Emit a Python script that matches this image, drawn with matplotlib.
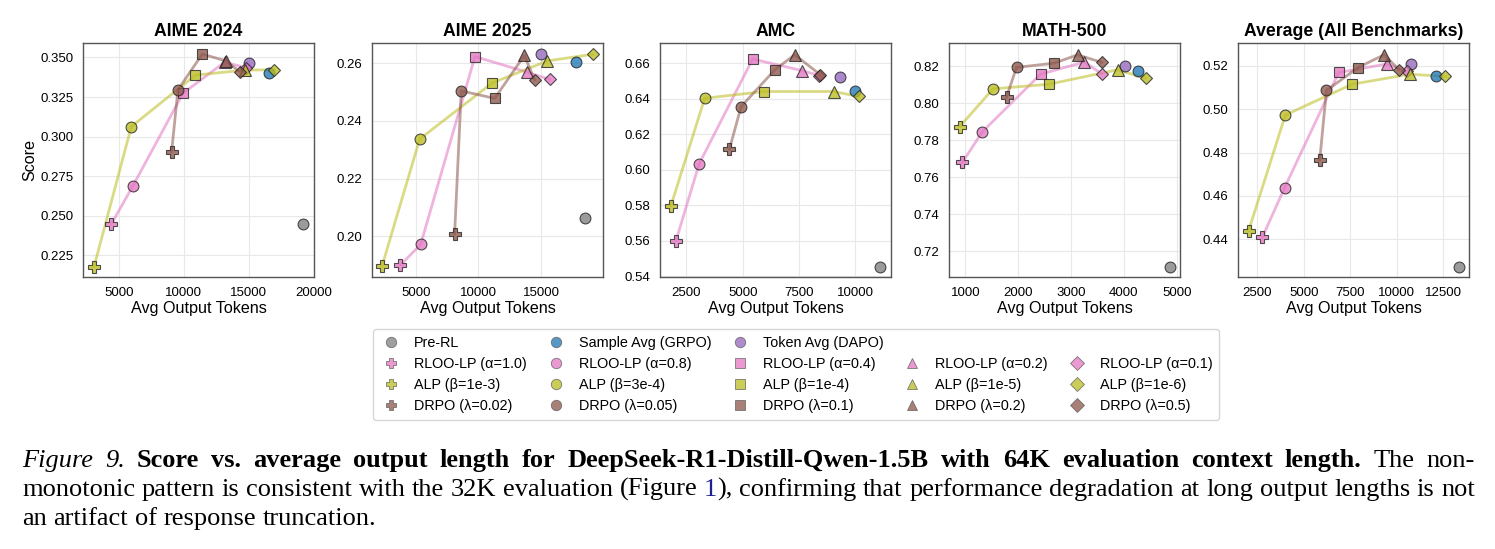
import matplotlib
matplotlib.use("Agg")
import matplotlib.pyplot as plt
from matplotlib.lines import Line2D
from matplotlib.ticker import FormatStrFormatter

W, H = 1495, 549

benchmarks = ["AIME 2024", "AIME 2025", "AMC", "MATH-500", "Average (All Benchmarks)"]

# baselines, one value per benchmark
pre_rl_tokens = [19150, 18450, 11100, 4870, 13340]
pre_rl_score = [0.2450, 0.2065, 0.5453, 0.7115, 0.4272]
grpo_tokens = [16600, 17730, 9970, 4270, 12100]
grpo_score = [0.3401, 0.2605, 0.6444, 0.8178, 0.5155]
dapo_tokens = [15000, 15000, 9310, 4030, 10770]
dapo_score = [0.3464, 0.2631, 0.6521, 0.8205, 0.5208]

# one row per setting, one column per benchmark
rloo_alphas = ["1.0", "0.8", "0.4", "0.2", "0.1"]
rloo_tokens = [
    [4430, 3780, 2030, 943, 2770],
    [6100, 5400, 3060, 1322, 3970],
    [9950, 9720, 5440, 2423, 6885],
    [13150, 13860, 7650, 3253, 9457],
    [14800, 15665, 8400, 3581, 10540],
]
rloo_score = [
    [0.2447, 0.1900, 0.5599, 0.7681, 0.4409],
    [0.2690, 0.1972, 0.6032, 0.7847, 0.4638],
    [0.3274, 0.2623, 0.6623, 0.8158, 0.5169],
    [0.3470, 0.2569, 0.6557, 0.8224, 0.5208],
    [0.3435, 0.2544, 0.6530, 0.8160, 0.5174],
]

alp_betas = ["1e-3", "3e-4", "1e-4", "1e-5", "1e-6"]
alp_tokens = [
    [3100, 2320, 1810, 893, 2030],
    [5970, 5320, 3310, 1525, 4010],
    [10900, 11075, 5956, 2581, 7608],
    [14700, 15480, 9045, 3880, 10718],
    [16980, 19110, 10150, 4411, 12626],
]
alp_score = [
    [0.2177, 0.1896, 0.5797, 0.7875, 0.4439],
    [0.3063, 0.2337, 0.6402, 0.8079, 0.4973],
    [0.3388, 0.2531, 0.6440, 0.8104, 0.5115],
    [0.3420, 0.2608, 0.6440, 0.8182, 0.5161],
    [0.3422, 0.2631, 0.6412, 0.8137, 0.5151],
]

drpo_lambdas = ["0.02", "0.05", "0.1", "0.2", "0.5"]
drpo_tokens = [
    [9070, 8100, 4410, 1779, 5862],
    [9560, 8630, 4926, 1968, 6221],
    [11430, 11290, 6427, 2683, 7931],
    [13250, 13650, 7309, 3126, 9331],
    [14300, 14470, 8450, 3581, 10126],
]
drpo_score = [
    [0.2903, 0.2008, 0.6115, 0.8034, 0.4765],
    [0.3295, 0.2504, 0.6355, 0.8195, 0.5086],
    [0.3521, 0.2478, 0.6562, 0.8218, 0.5192],
    [0.3478, 0.2627, 0.6647, 0.8263, 0.5251],
    [0.3411, 0.2542, 0.6534, 0.8222, 0.5182],
]

# axis ranges and ticks per panel
xlims = [(2256, 20026), (1525, 19910), (1323, 11589), (690, 5063), (1459, 13900)]
ylims = [(0.2114, 0.3591), (0.1859, 0.2670), (0.5396, 0.6713), (0.7061, 0.8327), (0.4226, 0.5305)]
xticks = [[5000, 10000, 15000, 20000], [5000, 10000, 15000], [2500, 5000, 7500, 10000],
          [1000, 2000, 3000, 4000, 5000], [2500, 5000, 7500, 10000, 12500]]
yticks = [[0.225, 0.250, 0.275, 0.300, 0.325, 0.350], [0.20, 0.22, 0.24, 0.26],
          [0.54, 0.56, 0.58, 0.60, 0.62, 0.64, 0.66], [0.72, 0.74, 0.76, 0.78, 0.80, 0.82],
          [0.44, 0.46, 0.48, 0.50, 0.52]]
yfmt = ["%.3f", "%.2f", "%.2f", "%.2f", "%.2f"]

markers = ["P", "o", "s", "^", "D"]
msizes = [8, 7.8, 7.5, 8, 6.5]

plt.rcParams["font.family"] = ["Liberation Sans", "DejaVu Sans"]

fig = plt.figure(figsize=(W / 100, H / 100), dpi=100)

mk = dict(mec="#222222", mew=0.8, alpha=0.78, linestyle="none", zorder=3)

groups = [
    ("tab:pink", rloo_tokens, rloo_score),
    ("tab:olive", alp_tokens, alp_score),
    ("tab:brown", drpo_tokens, drpo_score),
]

lefts = [83, 372, 660, 949, 1238]
for b, left in enumerate(lefts):
    ax = fig.add_axes([left / W, 272 / H, 231 / W, 234 / H])
    ax.plot(pre_rl_tokens[b], pre_rl_score[b], marker="o", ms=7.8, color="tab:gray", **mk)
    ax.plot(grpo_tokens[b], grpo_score[b], marker="o", ms=7.8, color="tab:blue", **mk)
    ax.plot(dapo_tokens[b], dapo_score[b], marker="o", ms=7.8, color="tab:purple", **mk)
    for color, toks, scores in groups:
        xs = [row[b] for row in toks]
        ys = [row[b] for row in scores]
        ax.plot(xs, ys, color=color, lw=2, alpha=0.55, zorder=2)
    for color, toks, scores in groups:
        for v in range(5):
            ax.plot(toks[v][b], scores[v][b], marker=markers[v], ms=msizes[v],
                    color=color, **mk)
    ax.set_xlim(*xlims[b])
    ax.set_ylim(*ylims[b])
    ax.set_xticks(xticks[b])
    ax.set_yticks(yticks[b])
    ax.yaxis.set_major_formatter(FormatStrFormatter(yfmt[b]))
    ax.set_title(benchmarks[b], fontsize=12.7, fontweight="bold", pad=5)
    ax.set_xlabel("Avg Output Tokens", fontsize=11.6, labelpad=2)
    if b == 0:
        ax.set_ylabel("Score", fontsize=11.6, labelpad=2)
    ax.grid(True, color="#e8e8e8", lw=0.8)
    ax.set_axisbelow(True)
    ax.tick_params(length=0, pad=7, labelsize=9.5)
    for s in ax.spines.values():
        s.set_color("#555555")
        s.set_linewidth(1.0)

# legend, ordered column by column for a 5-column layout
def handle(marker, color, label):
    return Line2D([], [], marker=marker, color=color, ms=7.5, mec="#555555", mew=0.6,
                  alpha=0.75, linestyle="none", label=label)

blank = Line2D([], [], linestyle="none", marker=None, label=" ")
first_row = [handle("o", "tab:gray", "Pre-RL"),
             handle("o", "tab:blue", "Sample Avg (GRPO)"),
             handle("o", "tab:purple", "Token Avg (DAPO)"),
             blank, blank]
handles = []
for v in range(5):
    handles.append(first_row[v])
    handles.append(handle(markers[v], "tab:pink", f"RLOO-LP (α={rloo_alphas[v]})"))
    handles.append(handle(markers[v], "tab:olive", f"ALP (β={alp_betas[v]})"))
    handles.append(handle(markers[v], "tab:brown", f"DRPO (λ={drpo_lambdas[v]})"))
fig.legend(handles=handles, labels=[h.get_label() for h in handles],
           loc="upper center", bbox_to_anchor=(796 / W, 1 - 322 / H), ncol=5,
           fontsize=10.4, handlelength=1.6, handletextpad=0.8, columnspacing=1.18,
           labelspacing=0.5, borderpad=0.45, frameon=True)

# caption
caption = [
    [("Figure 9. ", "italic"),
     ("Score vs. average output length for DeepSeek-R1-Distill-Qwen-1.5B with 64K "
      "evaluation context length. ", "bold"),
     ("The non-", "normal")],
    [("monotonic pattern is consistent with the 32K evaluation (Figure ", "normal"),
     ("1", "link"),
     ("), confirming that performance degradation at long output lengths is not", "normal")],
    [("an artifact of response truncation.", "normal")],
]
styles = {"italic": dict(style="italic"), "bold": dict(weight="bold"),
          "normal": {}, "link": dict(color="#1f1f99")}


def split_words(segments):
    words = [[]]
    for text, st in segments:
        for i, p in enumerate(text.split(" ")):
            if i > 0:
                words.append([])
            if p:
                words[-1].append((p, st))
    return [w for w in words if w]


renderer = fig.canvas.get_renderer()
x_left, x_right = 22, 1475
baselines = [467, 496, 525]
cap_size = 19
for li, line in enumerate(caption):
    words = split_words(line)
    placed = []
    for w in words:
        pieces = []
        width = 0
        for txt, st in w:
            t = fig.text(0, 1 - baselines[li] / H, txt, fontsize=cap_size, va="baseline",
                         ha="left", family=["Liberation Serif"], **styles[st])
            pw = t.get_window_extent(renderer).width
            pieces.append((t, width))
            width += pw
        placed.append((pieces, width))
    total = sum(p[1] for p in placed)
    if li < 2:
        gap = (x_right - x_left - total) / (len(placed) - 1)
    else:
        gap = cap_size * 100 / 72 * 0.25
    x = x_left
    for pieces, width in placed:
        for t, off in pieces:
            t.set_x((x + off) / W)
        x += width + gap

fig.savefig("out.png", dpi=100)
